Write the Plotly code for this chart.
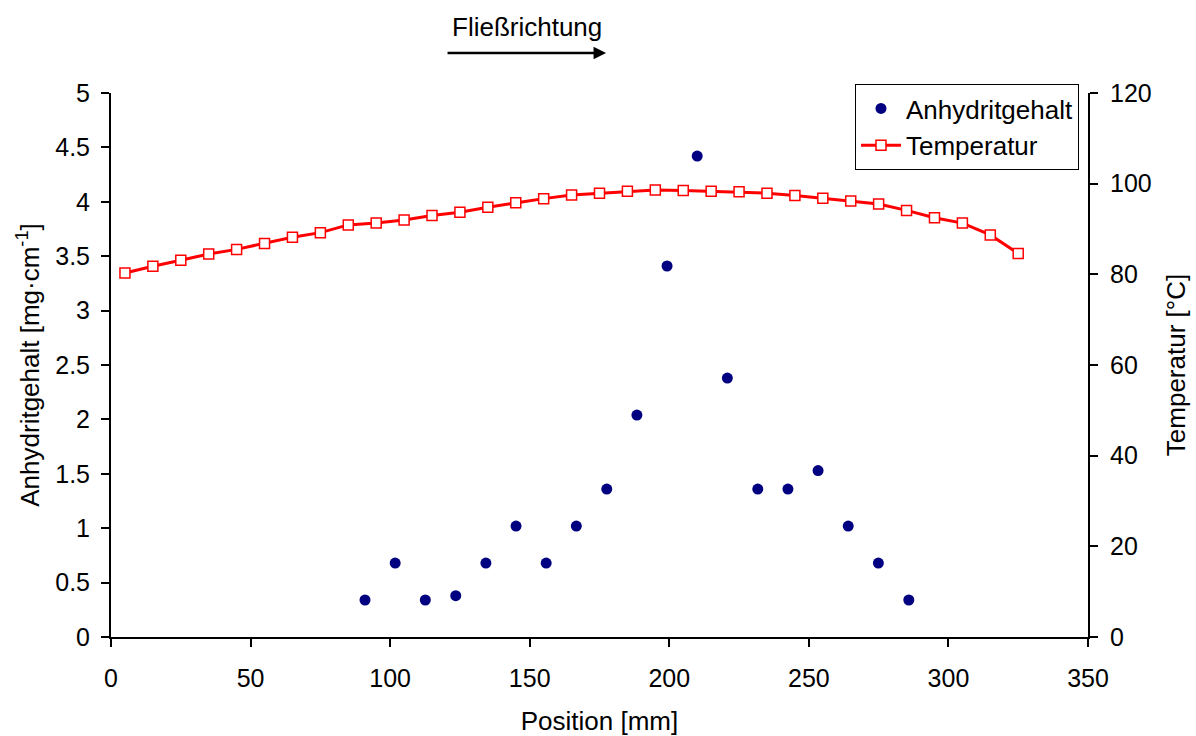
import plotly.graph_objects as go

# Anhydrite content along the sample (position in mm, content in mg/cm)
anhydrit_pos = [91.0, 101.8, 112.6, 123.5, 134.3, 145.1, 155.9, 166.7, 177.6,
                188.4, 199.2, 210.0, 220.8, 231.7, 242.5, 253.3, 264.1, 274.9, 285.8]
anhydrit_val = [0.34, 0.68, 0.34, 0.38, 0.68, 1.02, 0.68, 1.02, 1.36,
                2.04, 3.41, 4.42, 2.38, 1.36, 1.36, 1.53, 1.02, 0.68, 0.34]

# Temperature profile (position in mm, temperature in °C)
temp_pos = [5, 15, 25, 35, 45, 55, 65, 75, 85, 95, 105, 115, 125, 135, 145, 155,
            165, 175, 185, 195, 205, 215, 225, 235, 245, 255, 265, 275, 285, 295,
            305, 315, 325]
temp_val = [80.3, 81.8, 83.1, 84.5, 85.5, 86.8, 88.2, 89.2, 90.9, 91.3, 92.0,
            93.0, 93.7, 94.8, 95.8, 96.7, 97.5, 97.9, 98.3, 98.6, 98.5, 98.3,
            98.2, 97.9, 97.4, 96.8, 96.2, 95.5, 94.1, 92.5, 91.3, 88.7, 84.6]

FONT = "Liberation Sans, Arial, sans-serif"
TICK_SIZE = 25
TEXT_SIZE = 26

fig = go.Figure()

fig.add_trace(go.Scatter(
    x=anhydrit_pos, y=anhydrit_val, name="Anhydritgehalt",
    mode="markers",
    marker=dict(symbol="circle", size=11, color="#000080"),
    yaxis="y",
))

fig.add_trace(go.Scatter(
    x=temp_pos, y=temp_val, name="Temperatur",
    mode="lines+markers",
    line=dict(color="#ff0000", width=3),
    marker=dict(symbol="square", size=10, color="white",
                line=dict(color="#ff0000", width=1.5)),
    yaxis="y2",
))

axis_common = dict(
    showgrid=False, zeroline=False, showline=True, linecolor="black",
    linewidth=2, ticks="outside", ticklen=8, tickwidth=2, tickcolor="black",
    tickfont=dict(family=FONT, size=TICK_SIZE, color="black"),
    automargin=False,
)

fig.update_layout(
    width=1196, height=736,
    margin=dict(l=111, r=108, t=93, b=99),
    plot_bgcolor="white", paper_bgcolor="white",
    font=dict(family=FONT, color="black"),
    xaxis=dict(
        range=[0, 350], dtick=50, **axis_common, ticklabelstandoff=10,
        title=dict(text="Position [mm]", font=dict(family=FONT, size=TEXT_SIZE),
                   standoff=22),
    ),
    yaxis=dict(
        range=[0, 5], dtick=0.5, **axis_common, ticklabelstandoff=6,
        title=dict(text="Anhydritgehalt [mg·cm<sup>-1</sup>]",
                   font=dict(family=FONT, size=TEXT_SIZE), standoff=8),
    ),
    yaxis2=dict(
        range=[0, 120], dtick=20, overlaying="y", side="right", anchor="x",
        **axis_common, ticklabelstandoff=7,
        title=dict(text="Temperatur [°C]", font=dict(family=FONT, size=TEXT_SIZE),
                   standoff=16),
    ),
    legend=dict(
        x=0.7615, y=1.0165, xanchor="left", yanchor="top",
        bordercolor="black", borderwidth=1, bgcolor="white",
        font=dict(family=FONT, size=TEXT_SIZE, color="black"),
        tracegroupgap=0, itemwidth=40,
    ),
    showlegend=True,
)

# Flow direction label with arrow above the plot
fig.add_annotation(
    xref="paper", yref="paper", x=0.5067, y=1.0735,
    ax=-160, ay=0, axref="pixel", ayref="pixel",
    showarrow=True, arrowhead=2, arrowsize=1, arrowwidth=2.5,
    arrowcolor="black", text="",
)
fig.add_annotation(
    xref="paper", yref="paper", x=0.4258, y=1.121,
    text="Fließrichtung", showarrow=False,
    font=dict(family=FONT, size=TEXT_SIZE, color="black"),
    xanchor="center", yanchor="middle",
)

fig.write_html("out.html")
